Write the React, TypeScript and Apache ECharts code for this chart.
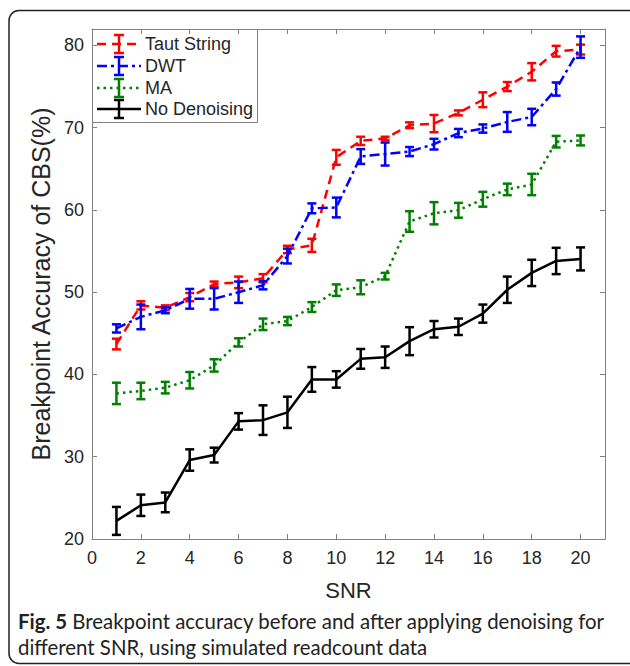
import React, { useEffect, useRef } from "react";
import * as echarts from "echarts";

const snr = [1, 2, 3, 4, 5, 6, 7, 8, 9, 10, 11, 12, 13, 14, 15, 16, 17, 18, 19, 20];

const tautMean = [43.7, 48.4, 48.1, 49.4, 51.0, 51.2, 51.7, 55.2, 55.7, 66.4, 68.4, 68.7, 70.3, 70.5, 71.8, 73.4, 75.0, 76.8, 79.3, 79.5];
const tautErr = [0.65, 0.5, 0.3, 0.5, 0.3, 0.7, 0.5, 0.45, 0.8, 0.9, 0.5, 0.2, 0.35, 1.05, 0.3, 0.9, 0.55, 1.05, 0.65, 0.6];

const dwtMean = [45.6, 47.0, 47.8, 49.2, 49.2, 50.0, 50.85, 54.4, 60.2, 60.3, 66.5, 66.8, 67.1, 68.0, 69.35, 69.9, 70.7, 71.3, 74.7, 79.8];
const dwtErr = [0.5, 1.5, 0.35, 1.2, 1.3, 1.3, 0.5, 0.9, 0.6, 1.2, 0.9, 1.4, 0.55, 0.65, 0.5, 0.5, 1.2, 1.0, 0.8, 1.3];

const maMean = [37.7, 38.0, 38.4, 39.3, 41.1, 43.9, 46.1, 46.5, 48.2, 50.25, 50.6, 51.95, 58.6, 59.6, 59.96, 61.3, 62.5, 63.1, 68.3, 68.45];
const maErr = [1.3, 1.0, 0.7, 1.0, 0.75, 0.5, 0.7, 0.5, 0.6, 0.7, 0.85, 0.4, 1.25, 1.35, 0.9, 0.9, 0.7, 1.3, 0.7, 0.6];

const noneMean = [22.2, 24.1, 24.45, 29.6, 30.2, 34.3, 34.45, 35.4, 39.4, 39.4, 41.9, 42.1, 44.05, 45.5, 45.8, 47.4, 50.3, 52.35, 53.8, 54.05];
const noneErr = [1.7, 1.3, 1.2, 1.3, 0.9, 1.0, 1.8, 1.9, 1.5, 1.0, 1.2, 1.3, 1.7, 1.0, 1.0, 1.1, 1.6, 1.6, 1.6, 1.4];

const seriesNames = ["Taut String", "DWT", "MA", "No Denoising"];
const xTitle = "SNR";
const yTitle = "Breakpoint Accuracy of CBS(%)";
const captionBold = "Fig. 5";
const captionLine1 = " Breakpoint accuracy before and after applying denoising for";
const captionLine2 = "different SNR, using simulated readcount data";

const FONT = "Liberation Sans";
const TEXT = "#262626";
const AXIS = "#808080";

export default function App() {
  const ref = useRef<HTMLDivElement>(null);

  useEffect(() => {
    if (!ref.current) return;
    const chart = echarts.init(ref.current, undefined, { renderer: "svg" });

    const defs = [
      { name: seriesNames[0], mean: tautMean, err: tautErr, color: "#ff0000", dash: [9, 6] as any, z: 2 },
      { name: seriesNames[1], mean: dwtMean, err: dwtErr, color: "#0000ff", dash: [10, 4, 3, 4] as any, z: 3 },
      { name: seriesNames[2], mean: maMean, err: maErr, color: "#008000", dash: [2.5, 4] as any, z: 4 },
      { name: seriesNames[3], mean: noneMean, err: noneErr, color: "#000000", dash: "solid" as any, z: 5 },
    ];

    const series: any[] = [];
    defs.forEach((d) => {
      series.push({
        name: d.name,
        type: "line",
        xAxisIndex: 0,
        yAxisIndex: 0,
        data: snr.map((x, i) => [x, d.mean[i]]),
        showSymbol: false,
        symbol: "none",
        z: d.z,
        lineStyle: { color: d.color, width: 2.5, type: d.dash, cap: "butt" },
        itemStyle: { color: d.color },
      });
      series.push({
        name: d.name + " err",
        type: "custom",
        xAxisIndex: 0,
        yAxisIndex: 0,
        z: d.z,
        data: snr.map((x, i) => [x, d.mean[i] - d.err[i], d.mean[i] + d.err[i]]),
        encode: { x: 0, y: [1, 2] },
        renderItem: (params: any, api: any) => {
          const x = api.value(0);
          const top = api.coord([x, api.value(2)]);
          const bot = api.coord([x, api.value(1)]);
          const hw = 4.5;
          const style = { stroke: d.color, lineWidth: 2.5, fill: "none" };
          return {
            type: "group",
            children: [
              { type: "line", shape: { x1: top[0], y1: top[1], x2: bot[0], y2: bot[1] }, style },
              { type: "line", shape: { x1: top[0] - hw, y1: top[1], x2: top[0] + hw, y2: top[1] }, style },
              { type: "line", shape: { x1: bot[0] - hw, y1: bot[1], x2: bot[0] + hw, y2: bot[1] }, style },
            ],
          };
        },
      });
    });

    // legend drawn as graphics
    const legendYs = [44, 66, 88, 109];
    const legendChildren: any[] = [
      {
        type: "rect",
        shape: { x: 92.5, y: 29.5, width: 165, height: 93 },
        style: { fill: "#ffffff", stroke: AXIS, lineWidth: 1 },
      },
    ];
    defs.forEach((d, i) => {
      const y = legendYs[i];
      const st = { stroke: d.color, lineWidth: 2.5, lineDash: d.dash === "solid" ? null : d.dash, lineCap: "butt" };
      const es = { stroke: d.color, lineWidth: 2.5 };
      legendChildren.push(
        { type: "line", shape: { x1: 97, y1: y, x2: 141, y2: y }, style: st },
        { type: "line", shape: { x1: 119, y1: y - 9, x2: 119, y2: y + 9 }, style: es },
        { type: "line", shape: { x1: 114, y1: y - 9, x2: 124, y2: y - 9 }, style: es },
        { type: "line", shape: { x1: 114, y1: y + 9, x2: 124, y2: y + 9 }, style: es },
        {
          type: "text",
          x: 145,
          y: y,
          style: { text: d.name, fill: TEXT, font: `18px "${FONT}"`, verticalAlign: "middle" },
        }
      );
    });

    const option: any = {
      animation: false,
      backgroundColor: "#ffffff",
      grid: { left: 92, top: 29, right: 25, bottom: 127, containLabel: false },
      xAxis: [
        {
          type: "value",
          min: 0,
          max: 21,
          interval: 2,
          name: xTitle,
          nameLocation: "middle",
          nameGap: 40,
          nameTextStyle: { fontFamily: FONT, fontSize: 22, color: TEXT },
          axisLine: { show: true, lineStyle: { color: AXIS, width: 1 } },
          axisTick: { show: true, inside: true, length: 5, lineStyle: { color: AXIS } },
          axisLabel: { fontFamily: FONT, fontSize: 18, color: TEXT, margin: 10, showMaxLabel: false },
          splitLine: { show: false },
        },
        {
          type: "value",
          position: "top",
          min: 0,
          max: 21,
          interval: 2,
          axisLine: { show: true, onZero: false, lineStyle: { color: AXIS, width: 1 } },
          axisTick: { show: true, inside: true, length: 5, lineStyle: { color: AXIS } },
          axisLabel: { show: false },
          splitLine: { show: false },
        },
      ],
      yAxis: [
        {
          type: "value",
          min: 20,
          max: 82,
          interval: 10,
          name: yTitle,
          nameLocation: "middle",
          nameGap: 37,
          nameRotate: 90,
          nameTextStyle: { fontFamily: FONT, fontSize: 25, color: TEXT },
          axisLine: { show: true, lineStyle: { color: AXIS, width: 1 } },
          axisTick: { show: true, inside: true, length: 5, lineStyle: { color: AXIS } },
          axisLabel: { fontFamily: FONT, fontSize: 18, color: TEXT, margin: 8, showMaxLabel: false },
          splitLine: { show: false },
        },
        {
          type: "value",
          position: "right",
          min: 20,
          max: 82,
          interval: 10,
          axisLine: { show: true, onZero: false, lineStyle: { color: AXIS, width: 1 } },
          axisTick: { show: true, inside: true, length: 5, lineStyle: { color: AXIS } },
          axisLabel: { show: false },
          splitLine: { show: false },
        },
      ],
      series,
      graphic: [
        {
          type: "rect",
          z: 100,
          silent: true,
          shape: { x: 9, y: 10.5, width: 640, height: 653, r: 10 },
          style: { fill: "none", stroke: "#222222", lineWidth: 1.5 },
        },
        { type: "group", z: 100, children: legendChildren },
        {
          type: "text",
          z: 100,
          x: 18,
          y: 621,
          style: {
            text: "{b|" + captionBold + "}" + captionLine1,
            fill: "#222222",
            font: `20.4px "Lato"`,
            verticalAlign: "middle",
            rich: {
              b: { fontWeight: "bold", fontFamily: "Lato", fontSize: 20.4, fill: "#222222" },
            },
          },
        },
        {
          type: "text",
          z: 100,
          x: 18,
          y: 647,
          style: { text: captionLine2, fill: "#222222", font: `20.4px "Lato"`, verticalAlign: "middle" },
        },
      ],
    };

    chart.setOption(option);
    return () => chart.dispose();
  }, []);

  return <div ref={ref} style={{ position: "absolute", left: 0, top: 0, width: 630, height: 666 }} />;
}
